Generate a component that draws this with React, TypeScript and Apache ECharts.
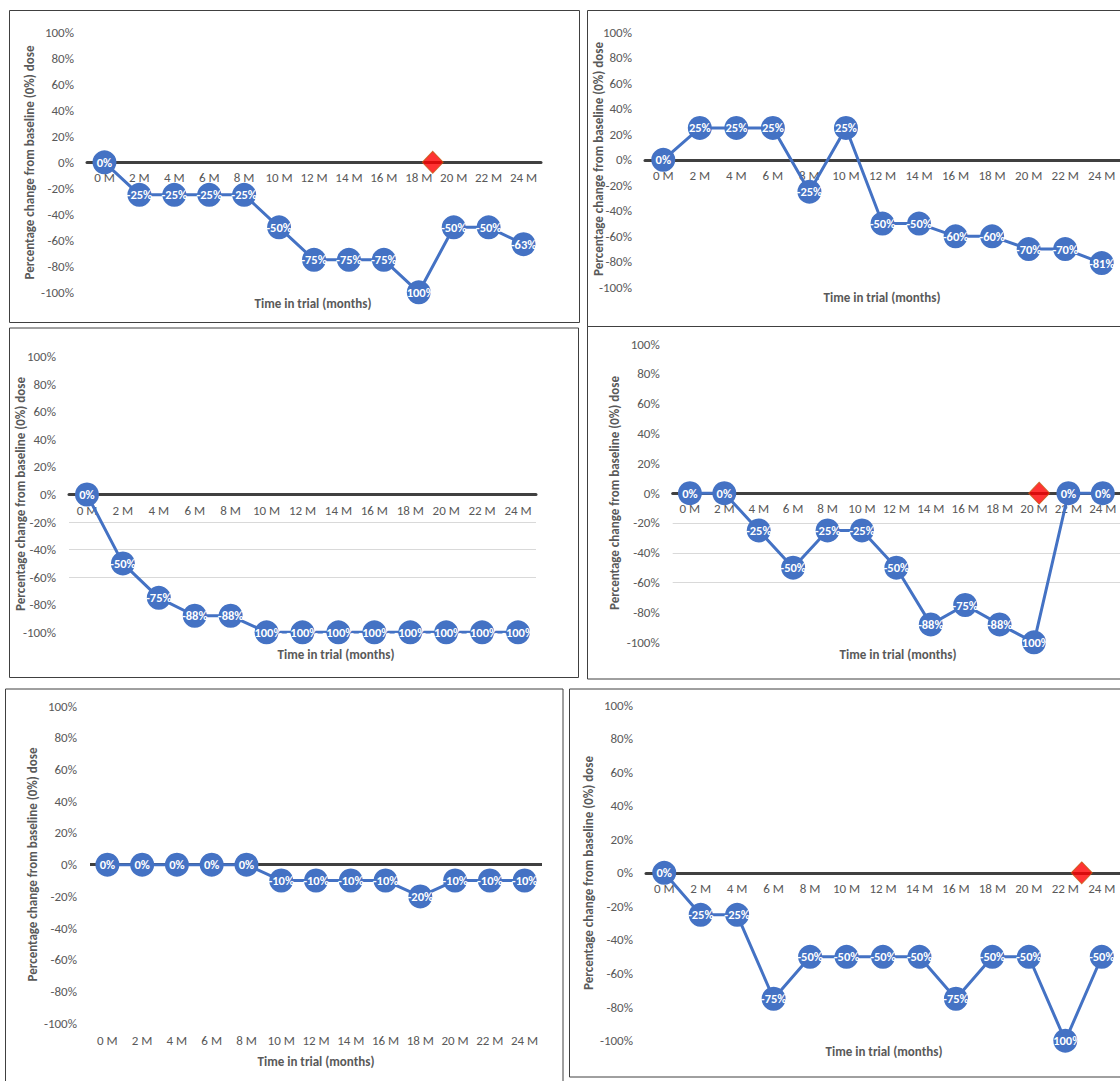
import React, { useEffect, useRef } from "react";
import * as echarts from "echarts";

// ---------- data ----------
const months = ["0 M", "2 M", "4 M", "6 M", "8 M", "10 M", "12 M", "14 M", "16 M", "18 M", "20 M", "22 M", "24 M"];
const yMin = -100;
const yMax = 100;
const yStep = 20;

const patient1 = [0, -25, -25, -25, -25, -50, -75, -75, -75, -100, -50, -50, -63];
const patient2 = [0, 25, 25, 25, -25, 25, -50, -50, -60, -60, -70, -70, -81];
const patient3 = [0, -50, -75, -88, -88, -100, -100, -100, -100, -100, -100, -100, -100];
const patient4 = [0, 0, -25, -50, -25, -25, -50, -88, -75, -88, -100, 0, 0];
const patient5 = [0, 0, 0, 0, 0, -10, -10, -10, -10, -20, -10, -10, -10];
const patient6 = [0, -25, -25, -75, -50, -50, -50, -50, -75, -50, -50, -100, -50];

// red diamond events (time in months, value in %)
const event1 = [[18.8, 0]];
const event4 = [[20.3, 0]];
const event6 = [[22.9, 0]];
const noEvent: number[][] = [];

const xTitle = "Time in trial (months)";
const yTitle = "Percentage change from baseline (0%) dose";

// ---------- layout ----------
const FONT = 'Carlito, Calibri, Lato, "Open Sans", sans-serif';
const TEXT = "#595959";
const BLUE = "#4472C4";
const DARK = "#404040";

const panels = [
  { data: patient1, events: event1, border: [9.5, 10.5, 570, 312], grid: [87, 32.3, 454, 260], xt: [313, 303], yt: [29, 162.5], gridlines: false, bottomLabels: false },
  { data: patient2, events: noEvent, border: [587.5, 10.5, 600, 316], grid: [645, 32.3, 476, 255], xt: [882, 297.7], yt: [598, 159], gridlines: false, bottomLabels: false },
  { data: patient3, events: noEvent, border: [9.5, 328, 569, 349.5], grid: [69, 356.7, 467, 275.6], xt: [336, 654], yt: [20.7, 494], gridlines: true, bottomLabels: false },
  { data: patient4, events: event4, border: [587.5, 326.5, 600, 352.5], grid: [672.7, 344, 450, 298.3], xt: [898, 654], yt: [614, 493], gridlines: true, bottomLabels: false },
  { data: patient5, events: noEvent, border: [5.5, 689, 557.5, 420], grid: [90, 706, 452, 317.3], xt: [316, 1061], yt: [32.3, 864.5], gridlines: false, bottomLabels: true },
  { data: patient6, events: event6, border: [569.5, 689, 600, 388], grid: [646, 705, 476, 335.7], xt: [884, 1051], yt: [588.3, 873], gridlines: false, bottomLabels: false },
];

function buildOption() {
  const ticks: number[] = [];
  for (let v = yMin; v <= yMax; v += yStep) ticks.push(v);

  const grid: any[] = [];
  const xAxis: any[] = [];
  const yAxis: any[] = [];
  const series: any[] = [];
  const graphic: any[] = [];

  panels.forEach((p, i) => {
    grid.push({ left: p.grid[0], top: p.grid[1], width: p.grid[2], height: p.grid[3], containLabel: false });

    // place the category axis (line + labels) at the value 0 of the y scale
    const zeroOffset = -p.grid[3] * ((0 - yMin) / (yMax - yMin));

    xAxis.push({
      type: "category",
      gridIndex: i,
      position: "bottom",
      offset: p.bottomLabels ? 0 : zeroOffset,
      data: months,
      boundaryGap: true,
      axisLine: { show: !p.bottomLabels, onZero: false, lineStyle: { color: DARK, width: 3 } },
      axisTick: { show: false },
      axisLabel: { interval: 0, color: TEXT, fontSize: 13, fontFamily: FONT, margin: p.bottomLabels ? 11 : 9 },
      splitLine: { show: false },
    });
    xAxis.push({ type: "value", gridIndex: i, show: false, min: -1, max: 25, axisLine: { onZero: false } });

    const splitColors = ticks.map((t) => {
      if (p.bottomLabels) return t === 0 ? DARK : "rgba(0,0,0,0)";
      if (p.gridlines) return t < 0 && t > -80 ? "#D9D9D9" : "rgba(0,0,0,0)";
      return "rgba(0,0,0,0)";
    });

    yAxis.push({
      type: "value",
      gridIndex: i,
      min: yMin,
      max: yMax,
      interval: yStep,
      axisLine: { show: false },
      axisTick: { show: false },
      axisLabel: { formatter: "{value}%", color: TEXT, fontSize: 13, fontFamily: FONT, margin: 13 },
      splitLine: {
        show: p.gridlines || p.bottomLabels,
        lineStyle: { color: splitColors, width: p.bottomLabels ? 3 : 1 },
      },
    });

    series.push({
      type: "line",
      xAxisIndex: i * 2,
      yAxisIndex: i,
      data: p.data,
      symbol: "circle",
      symbolSize: 24,
      showAllSymbol: true,
      itemStyle: { color: BLUE },
      lineStyle: { color: BLUE, width: 3 },
      label: {
        show: true,
        position: "inside",
        color: "#ffffff",
        fontWeight: "bold",
        fontSize: 12.5,
        fontFamily: FONT,
        formatter: (prm: any) => `${prm.value}%`,
      },
      z: 3,
    });

    if (p.events.length) {
      series.push({
        type: "scatter",
        xAxisIndex: i * 2 + 1,
        yAxisIndex: i,
        data: p.events,
        symbol: "diamond",
        symbolSize: [21, 22],
        itemStyle: { color: "#FF0000", borderColor: "#C55A11", borderWidth: 1 },
        z: 4,
      });
    }

    graphic.push({
      type: "rect",
      shape: { x: p.border[0], y: p.border[1], width: p.border[2], height: p.border[3] },
      style: { fill: "none", stroke: DARK, lineWidth: 1 },
      silent: true,
    });
    graphic.push({
      type: "text",
      x: p.xt[0],
      y: p.xt[1],
      style: {
        text: xTitle,
        fill: TEXT,
        fontSize: 13,
        fontWeight: "bold",
        fontFamily: FONT,
        align: "center",
        verticalAlign: "middle",
        textAlign: "center",
        textVerticalAlign: "middle",
      },
      silent: true,
    });
    graphic.push({
      type: "text",
      x: p.yt[0],
      y: p.yt[1],
      rotation: Math.PI / 2,
      style: {
        text: yTitle,
        fill: TEXT,
        fontSize: 13,
        fontWeight: "bold",
        fontFamily: FONT,
        align: "center",
        verticalAlign: "middle",
        textAlign: "center",
        textVerticalAlign: "middle",
      },
      silent: true,
    });
  });

  return {
    animation: false,
    backgroundColor: "#ffffff",
    textStyle: { fontFamily: FONT },
    grid,
    xAxis,
    yAxis,
    series,
    graphic,
  };
}

export default function App() {
  const ref = useRef<HTMLDivElement>(null);
  useEffect(() => {
    if (!ref.current) return;
    const chart = echarts.init(ref.current, undefined, { renderer: "svg" });
    chart.setOption(buildOption() as any);
    return () => chart.dispose();
  }, []);
  return (
    <div
      ref={ref}
      style={{ position: "fixed", left: 0, top: 0, width: 1120, height: 1081, background: "#fff" }}
    />
  );
}
